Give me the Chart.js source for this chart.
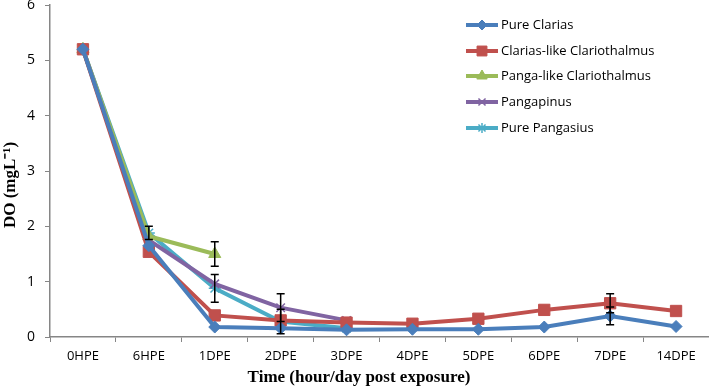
<!DOCTYPE html>
<html>
<head>
<meta charset="utf-8">
<script src="https://cdn.jsdelivr.net/npm/chart.js@4"></script>
<style>
  html, body { margin: 0; padding: 0; background: #fff; }
  #wrap { width: 709px; height: 388px; position: relative; }
</style>
</head>
<body>
<div id="wrap"><canvas id="do-chart" width="709" height="388"></canvas></div>
<script>
const categories = ['0HPE', '6HPE', '1DPE', '2DPE', '3DPE', '4DPE', '5DPE', '6DPE', '7DPE', '14DPE'];
const seriesNames = ['Pure Clarias', 'Clarias-like Clariothalmus', 'Panga-like Clariothalmus', 'Pangapinus', 'Pure Pangasius'];

const pureClarias = [5.2, 1.65, 0.18, 0.16, 0.13, 0.14, 0.14, 0.18, 0.38, 0.19];
const clariasLike = [5.2, 1.54, 0.39, 0.30, 0.26, 0.24, 0.33, 0.49, 0.61, 0.47];
const pangaLike = [5.2, 1.82, 1.50, null, null, null, null, null, null, null];
const pangapinus = [5.2, 1.75, 0.96, 0.53, 0.30, null, null, null, null, null];
const purePangasius = [5.2, 1.88, 0.88, 0.28, 0.16, null, null, null, null, null];

// standard errors (null = no bar drawn)
const errClarias = [null, null, null, null, null, null, null, null, 0.16, null];
const errClariasLike = [null, null, null, null, null, null, null, null, 0.17, null];
const errPangaLike = [null, null, 0.22, null, null, null, null, null, null, null];
const errPangapinus = [null, null, null, 0.25, null, null, null, null, null, null];
const errPangasius = [null, 0.12, 0.25, 0.22, null, null, null, null, null, null];

const yTicks = [0, 1, 2, 3, 4, 5, 6];

const colors = ['#4A7EBB', '#C0504D', '#9BBB59', '#8064A2', '#4BACC6'];
const markers = ['rectRot', 'rect', 'triangle', 'crossRot', 'star'];
const markerSize = [6, 8, 7, 6, 6];
const markerBorder = [1, 1, 1, 1.5, 1.5];

const allValues = [pureClarias, clariasLike, pangaLike, pangapinus, purePangasius];
const allErrors = [errClarias, errClariasLike, errPangaLike, errPangapinus, errPangasius];

const datasets = seriesNames.map(function(name, i) {
    return {
        label: name,
        data: allValues[i],
        errors: allErrors[i],
        borderColor: colors[i],
        backgroundColor: colors[i],
        pointBackgroundColor: colors[i],
        pointBorderColor: colors[i],
        pointStyle: markers[i],
        pointRadius: markerSize[i],
        pointBorderWidth: markerBorder[i],
        borderWidth: 4,
        tension: 0,
        spanGaps: false
    };
});

const errorBars = {
    id: 'errorBars',
    afterDatasetsDraw(chart) {
        const ctx = chart.ctx;
        const x = chart.scales.x;
        const y = chart.scales.y;
        ctx.save();
        ctx.strokeStyle = '#000';
        ctx.lineWidth = 1.5;
        chart.data.datasets.forEach(function(ds) {
            ds.errors.forEach(function(e, j) {
                const v = ds.data[j];
                if (e == null || v == null) return;
                const px = x.getPixelForValue(j);
                const top = y.getPixelForValue(v + e);
                const bot = y.getPixelForValue(v - e);
                ctx.beginPath();
                ctx.moveTo(px, top); ctx.lineTo(px, bot);
                ctx.moveTo(px - 4, top); ctx.lineTo(px + 4, top);
                ctx.moveTo(px - 4, bot); ctx.lineTo(px + 4, bot);
                ctx.stroke();
            });
        });
        ctx.restore();
    }
};

const legendAndTitles = {
    id: 'legendAndTitles',
    afterDraw(chart) {
        const ctx = chart.ctx;
        ctx.save();
        // legend
        const lx = 466, lw = 32;
        const rowY = [25, 51, 76, 102, 128];
        chart.data.datasets.forEach(function(ds, i) {
            const cy = rowY[i];
            ctx.strokeStyle = ds.borderColor;
            ctx.fillStyle = ds.borderColor;
            ctx.lineWidth = 4;
            ctx.beginPath();
            ctx.moveTo(lx, cy); ctx.lineTo(lx + lw, cy);
            ctx.stroke();
            ctx.lineWidth = ds.pointBorderWidth;
            Chart.helpers.drawPoint(ctx, {
                pointStyle: ds.pointStyle,
                radius: ds.pointRadius - 1,
                borderWidth: ds.pointBorderWidth,
                rotation: 0
            }, lx + lw / 2, cy);
            ctx.fillStyle = '#000';
            ctx.font = '13px "Open Sans"';
            ctx.textAlign = 'left';
            ctx.textBaseline = 'middle';
            ctx.fillText(ds.label, lx + lw + 3, cy);
        });
        // axis titles
        ctx.fillStyle = '#000';
        ctx.font = 'bold 17px "Liberation Serif"';
        ctx.textAlign = 'center';
        ctx.textBaseline = 'middle';
        ctx.fillText('Time (hour/day post exposure)', 359, 378);
        ctx.translate(11, 185);
        ctx.rotate(-Math.PI / 2);
        ctx.fillText('DO (mgL\u207B\u00B9)', 0, 0);
        ctx.restore();
    }
};

new Chart(document.getElementById('do-chart'), {
    type: 'line',
    data: { labels: categories, datasets: datasets },
    options: {
        responsive: false,
        animation: false,
        layout: { autoPadding: false, padding: { top: 5, right: 0, left: 0, bottom: 0 } },
        plugins: { legend: { display: false }, tooltip: { enabled: false } },
        scales: {
            x: {
                offset: true,
                grid: { display: true, offset: true, drawOnChartArea: false, drawTicks: true, tickLength: 5, color: '#868686' },
                border: { color: '#868686', width: 1.5 },
                ticks: { color: '#000', font: { family: 'Open Sans', size: 13 }, padding: 6, maxRotation: 0, autoSkip: false },
                afterFit(scale) { scale.height = 51; scale.paddingLeft = 0; scale.paddingRight = 0; }
            },
            y: {
                min: 0, max: 6,
                afterBuildTicks(scale) { scale.ticks = yTicks.map(function(v) { return { value: v }; }); },
                grid: { display: true, drawOnChartArea: false, drawTicks: true, tickLength: 5, color: '#868686' },
                border: { color: '#868686', width: 1.5 },
                ticks: { color: '#000', font: { family: 'Open Sans', size: 14 }, padding: 10 },
                afterFit(scale) { scale.width = 50; scale.paddingTop = 0; scale.paddingBottom = 0; }
            }
        }
    },
    plugins: [errorBars, legendAndTitles]
});
</script>
</body>
</html>
